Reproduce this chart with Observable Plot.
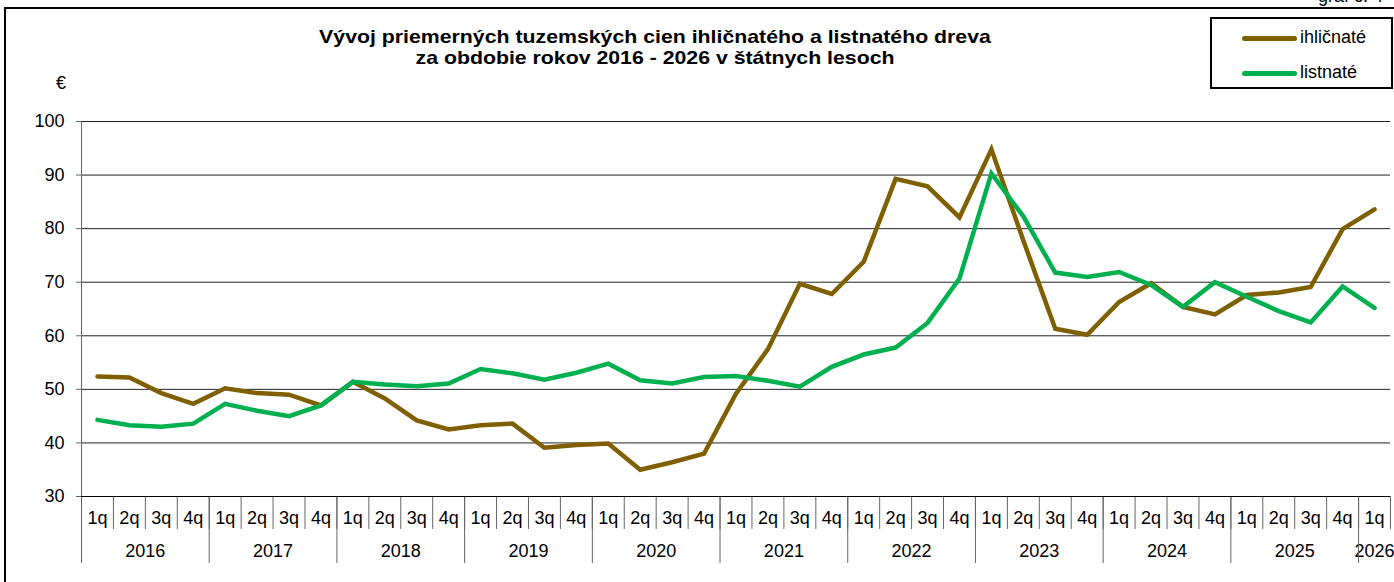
<!DOCTYPE html>
<html>
<head>
<meta charset="utf-8">
<script src="https://cdn.jsdelivr.net/npm/d3@7"></script>
<script src="https://cdn.jsdelivr.net/npm/@observablehq/plot@0.6"></script>
<style>
  html, body { margin: 0; padding: 0; background: #fff; overflow: hidden; }
  body { width: 1394px; height: 582px; position: relative; font-family: "Liberation Sans", Arial, sans-serif; }
  #chart { position: absolute; left: 0; top: 0; }
  .abs { position: absolute; white-space: nowrap; }
  #frame { left: 4px; top: 7px; width: 1420px; height: 620px; border: 2px solid #000; }
  #title { left: 0; width: 1310px; top: 26px; text-align: center; font-weight: bold; font-size: 19px; line-height: 21px; color: #000; transform: scaleX(1.12); transform-origin: 655px 0; }
  #euro { left: 56px; top: 73px; font-size: 18px; }
  #graf { left: 1318px; top: -14px; font-size: 18px; }
  #legend { left: 1210px; top: 17px; width: 179px; height: 68px; border: 2px solid #000; background: #fff; }
  .lg-line { position: absolute; width: 55px; height: 5px; border-radius: 3px; }
  .lg-text { position: absolute; font-size: 18px; line-height: 20px; }
</style>
</head>
<body>
<div id="chart"></div>
<div id="frame" class="abs"></div>
<div id="graf" class="abs">graf č. 4</div>
<div id="title" class="abs">Vývoj priemerných tuzemských cien ihličnatého a listnatého dreva<br>za obdobie rokov 2016 - 2026 v štátnych lesoch</div>
<div id="euro" class="abs">€</div>
<div id="legend" class="abs"></div>
<script>
// ---- data ----
const years = ["2016","2017","2018","2019","2020","2021","2022","2023","2024","2025","2026"];
const quarters = ["1q","2q","3q","4q"];
const seriesNames = ["ihličnaté", "listnaté"];
const seriesColors = ["#7F6000", "#00B050"];
const yTicks = [30, 40, 50, 60, 70, 80, 90, 100];

const ihlicnate = [52.4,52.2,49.3,47.3, 50.2,49.3,49.0,47.0, 51.4,48.3,44.2,42.5, 43.3,43.6,39.1,39.6,
                   39.9,35.0,36.4,38.0, 49.2,57.5,69.7,67.8, 73.8,89.3,87.9,82.1, 94.8,77.8,61.3,60.2,
                   66.3,69.8,65.4,64.0, 67.6,68.1,69.1,79.9, 83.6];
const listnate  = [44.3,43.3,43.0,43.6, 47.3,46.0,45.0,47.0, 51.4,50.9,50.6,51.1, 53.8,53.0,51.8,53.1,
                   54.8,51.7,51.1,52.3, 52.5,51.6,50.5,54.2, 56.5,57.8,62.4,70.7, 90.3,82.3,71.8,71.0,
                   71.9,69.5,65.4,70.0, 67.3,64.6,62.5,69.2, 65.2];

// ---- derived tables ----
const periods = [];
years.forEach(y => quarters.forEach(q => periods.push({year: y, q})));
periods.length = ihlicnate.length; // 2016 1q .. 2026 1q
const idx = periods.map((_, i) => i);

const rows = [];
[ihlicnate, listnate].forEach((vals, s) => vals.forEach((v, i) => rows.push({i, value: v, series: seriesNames[s]})));

const yearGroups = years.map(y => {
  const ii = idx.filter(i => periods[i].year === y);
  return {year: y, start: ii[0], end: ii[ii.length - 1]};
});
const yearCenters = yearGroups.map(g => (g.start + g.end) / 2);
const yearBounds = yearGroups.map(g => g.start - 0.5);
const quarterBounds = idx.map(i => i - 0.5).concat([idx.length - 0.5]);

const font = "'Liberation Sans', Arial, sans-serif";
const gray = "#666";

const chart = Plot.plot({
  width: 1394,
  height: 582,
  marginLeft: 81,
  marginRight: 4,
  marginTop: 121,
  marginBottom: 86,
  style: {background: "transparent", fontFamily: font, fontSize: "18px", color: "#000", overflow: "visible"},
  x: {type: "linear", domain: [-0.5, idx.length - 0.5]},
  y: {domain: [30, 100]},
  color: {domain: seriesNames, range: seriesColors},
  marks: [
    Plot.gridY(yTicks.filter(t => t > 30), {stroke: "#222", strokeOpacity: 1, strokeWidth: 1}),
    Plot.axisY(yTicks, {tickSize: 5, tickPadding: 12, stroke: gray, fontSize: 18, label: null}),
    // quarter labels
    Plot.axisX(idx, {tickSize: 0, tickPadding: 15, tickFormat: i => periods[i].q, fontSize: 18, label: null}),
    // year labels
    Plot.axisX(yearCenters, {tickSize: 0, tickPadding: 48, tickFormat: (d, k) => yearGroups[k].year, fontSize: 18, label: null}),
    // quarter separators
    Plot.axisX(quarterBounds, {tickSize: 33, tickFormat: () => "", stroke: gray, label: null}),
    // year separators
    Plot.axisX(yearBounds, {tickSize: 67, tickFormat: () => "", stroke: gray, label: null}),
    Plot.ruleX([-0.5], {y1: 30, y2: 100, stroke: gray}),
    Plot.ruleY([30], {stroke: "#000"}),
    Plot.line(rows, {x: "i", y: "value", z: "series", stroke: "series", strokeWidth: 4.5,
                     strokeLinecap: "round", strokeLinejoin: "miter", strokeMiterlimit: 6})
  ]
});
document.getElementById("chart").appendChild(chart);

// legend
const legend = document.getElementById("legend");
seriesNames.forEach((name, k) => {
  const cy = [19, 54][k];
  const line = document.createElement("div");
  line.className = "lg-line";
  line.style.left = "30px";
  line.style.top = (cy - 2.5) + "px";
  line.style.background = seriesColors[k];
  legend.appendChild(line);
  const t = document.createElement("div");
  t.className = "lg-text";
  t.style.left = "88px";
  t.style.top = (cy - 11) + "px";
  t.textContent = name;
  legend.appendChild(t);
});
</script>
</body>
</html>
